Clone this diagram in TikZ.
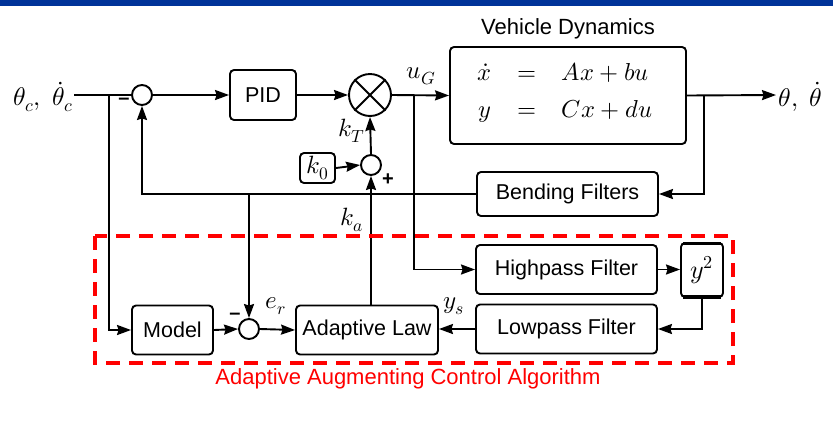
\RequirePackage{fix-cm}
\documentclass[tikz,border=0pt]{standalone}
\usepackage{fontspec}
\IfFileExists{unicode-math.sty}{\IfFontExistsTF{Latin Modern Math}{\usepackage{unicode-math}\setmathfont{Latin Modern Math}}{}}{}
\setmainfont{Liberation Sans}
\usetikzlibrary{arrows.meta}
\definecolor{topblue}{RGB}{0,51,153}
\definecolor{algred}{RGB}{255,0,0}
\begin{document}
\begin{tikzpicture}[x=1pt,y=-1pt, line width=1.9pt,
  blk/.style={draw, rounded corners=4pt, line width=1.9pt, inner sep=0pt, font=\fontsize{21.5}{25}\selectfont},
  sumc/.style={draw, circle, minimum size=20pt, inner sep=0pt, line width=1.9pt},
  lbl/.style={inner sep=0pt, font=\fontsize{25}{30}\selectfont},
  sgn/.style={inner sep=0pt, font=\fontsize{20}{22}\selectfont\bfseries},
  conn/.style={-{Stealth[length=14pt,width=10pt,inset=1.5pt]}, line width=1.9pt},
  plain/.style={line width=1.9pt}]
\useasboundingbox (0,0) rectangle (833,421);
\fill[topblue] (0,0) rectangle (833,6);

% blocks
\node[blk, minimum width=66pt, minimum height=50pt] (pid) at (263,95) {PID};
\node[blk, minimum width=236pt, minimum height=97pt] (vd) at (568,95.5) {};
\node[inner sep=0pt, font=\fontsize{24.5}{29}\selectfont] (eq) at (565,93.5)
  {$\arraycolsep=12.75pt\begin{array}{rcl}\dot{x} & = & Ax+bu\\[8pt] y & = & Cx+du\end{array}$};
\node[inner sep=0pt, font=\fontsize{22}{26}\selectfont, anchor=south] (vdt) at (vd.north) [yshift=6pt] {Vehicle Dynamics};
\node[blk, minimum width=181pt, minimum height=44pt] (bf) at (567.5,194) {Bending Filters};
\node[blk, minimum width=35pt, minimum height=30pt, font=\fontsize{25}{28}\selectfont] (k0) at (317.5,168) {$k_0$};
\node[blk, minimum width=81pt, minimum height=49pt] (model) at (172.5,330) {Model};
\node[blk, minimum width=142pt, minimum height=49pt] (al) at (367,330) {Adaptive Law};
\node[blk, minimum width=181pt, minimum height=49pt] (lp) at (566.5,329) {Lowpass Filter};
\node[blk, minimum width=181pt, minimum height=49pt] (hp) at (566.5,269.5) {Highpass Filter};
\node[blk, minimum width=42pt, minimum height=54pt, font=\fontsize{26}{30}\selectfont] (ysq) at (702,270) {$y^2$};
\draw[line width=3.5pt] ([xshift=3pt,yshift=-1.2pt]ysq.north west) -- ([xshift=-3pt,yshift=-1.2pt]ysq.north east);
\draw[line width=3.5pt] ([xshift=3pt,yshift=1.2pt]ysq.south west) -- ([xshift=-3pt,yshift=1.2pt]ysq.south east);

% summing junctions
\node[sumc] (s1) at (142,95) {};
\node[sumc, minimum size=42pt] (mult) at (370,95) {};
\draw[plain] (mult.north west) -- (mult.south east);
\draw[plain] (mult.north east) -- (mult.south west);
\node[sumc] (s3) at (371,165) {};
\node[sumc] (s2) at (249,329) {};

% signs
\node[sgn] (m1) at (124,101) {–};
\node[sgn] (p3) at (388,180) {+};
\node[sgn] (m2) at (235,316) {–};

% input / output
\node[lbl, anchor=east, font=\fontsize{25.5}{30}\selectfont] (in) at (74,97) {$\theta_c,\;\dot{\theta}_c$};
\node[lbl, anchor=west, font=\fontsize{25.5}{30}\selectfont] (out) at (778,97) {$\theta,\;\dot{\theta}$};
\coordinate (outend) at (776,95);

% labels
\node[lbl] (ug) at (421,76) {$u_G$};
\node[lbl] (kt) at (352,131) {$k_T$};
\node[lbl] (ka) at (352,220) {$k_a$};
\node[lbl] (er) at (276,306) {$e_r$};
\node[lbl] (ys) at (454,306) {$y_s$};

% branch points
\coordinate (bin) at (109,95);
\coordinate (bug) at (414,95);
\coordinate (bout) at (704,95);
\coordinate (bfb) at (249,194);

% connectors
\draw[plain] (in.east |- s1) -- (s1.west);
\draw[conn] (bin) |- (model.west);
\draw[conn] (s1.east) -- (pid.west);
\draw[conn] (pid.east) -- (mult.west);
\draw[conn] (mult.east) -- (vd.west);
\draw[conn] (bug) |- (hp.west);
\draw[conn] (vd.east) -- (outend);
\draw[conn] (bout) |- (bf.east);
\draw[conn] (bf.west) -| (s1.south);
\draw[conn] (bfb) -- (s2.north);
\draw[conn] (model.east) -- (s2.west);
\draw[conn] (s2.east) -- (al.west);
\draw[conn] (lp.west) -- (lp.west -| al.east);
\draw[conn] (hp.east) -- (hp.east -| ysq.west);
\draw[conn] (ysq.south) |- (lp.east);
\draw[conn] (s3 |- al.north) -- (s3.south);
\draw[conn] (k0.east) -- (s3.west);
\draw[conn] (s3.north) -- (mult.south);

% adaptive region
\draw[algred, line width=3.8pt, dash pattern=on 14pt off 9pt] (95,236) rectangle (733,363);
\node[inner sep=0pt, font=\fontsize{22}{26}\selectfont, text=algred] (alg) at (408,379) {Adaptive Augmenting Control Algorithm};
\end{tikzpicture}
\end{document}
